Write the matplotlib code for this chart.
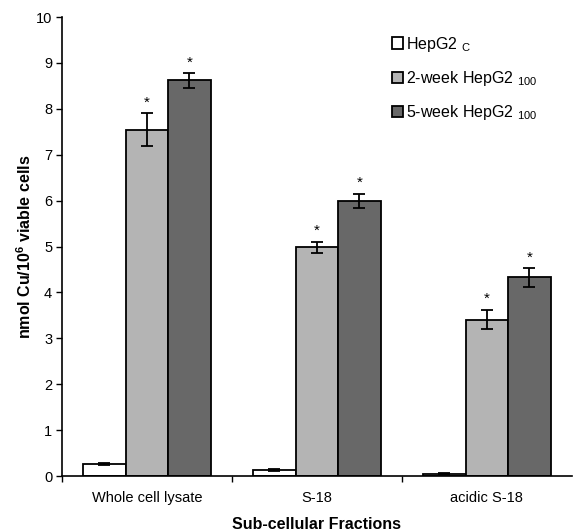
import matplotlib
matplotlib.use("Agg")
import matplotlib.pyplot as plt
import numpy as np

plt.rcParams["font.family"] = ["Liberation Sans", "DejaVu Sans"]
plt.rcParams["mathtext.default"] = "regular"

categories = ["Whole cell lysate", "S-18", "acidic S-18"]
series_names = ["HepG2 $_{C}$", "2-week HepG2 $_{100}$", "5-week HepG2 $_{100}$"]
series_colors = ["white", "#b4b4b4", "#686868"]

control = [0.27, 0.13, 0.05]
week2 = [7.55, 4.99, 3.41]
week5 = [8.62, 6.00, 4.33]
control_err = [0.02, 0.02, 0.01]
week2_err = [0.35, 0.12, 0.21]
week5_err = [0.16, 0.15, 0.20]
week2_sig = [True, True, True]
week5_sig = [True, True, True]

values = [control, week2, week5]
errors = [control_err, week2_err, week5_err]
signif = [[False] * 3, week2_sig, week5_sig]

fig = plt.figure(figsize=(5.73, 5.32), dpi=100)
ax = fig.add_axes([0.108, 0.105, 0.89, 0.863])

x = np.arange(len(categories))
width = 0.25

for k in range(3):
    pos = x + (k - 1) * width
    ax.bar(
        pos,
        values[k],
        width,
        color=series_colors[k],
        edgecolor="black",
        linewidth=1.3,
        label=series_names[k],
        zorder=2
    )
    ax.errorbar(
        pos,
        values[k],
        yerr=errors[k],
        fmt="none",
        ecolor="black",
        elinewidth=1.3,
        capsize=4,
        capthick=1.3,
        zorder=3
    )
    for p, v, e, s in zip(pos, values[k], errors[k], signif[k]):
        if s:
            ax.text(p, v + e + 0.08, "*", ha="center", va="bottom", fontsize=11)

ax.set_xlim(-0.5, 2.5)
ax.set_ylim(0, 10)
ax.set_yticks(range(0, 11))
ax.set_xticks(x)
ax.set_xticklabels(categories, fontsize=10.5)
ax.set_xticks([-0.5, 0.5, 1.5], minor=True)
ax.tick_params(axis="x", which="major", length=0, pad=11)
ax.tick_params(axis="x", which="minor", length=4, width=1, direction="out")
ax.tick_params(axis="y", length=4, width=1, direction="out", labelsize=10.5, pad=3)

ax.spines["top"].set_visible(False)
ax.spines["right"].set_visible(False)
ax.spines["left"].set_linewidth(1.2)
ax.spines["bottom"].set_linewidth(1.2)

ax.set_xlabel("Sub-cellular Fractions", fontsize=11.5, fontweight="bold", labelpad=8)
ax.set_ylabel("nmol Cu/10$^{6}$ viable cells", fontsize=11.5, fontweight="bold", labelpad=1)

ax.legend(
    loc="upper right",
    bbox_to_anchor=(0.96, 0.993),
    frameon=False,
    fontsize=11.5,
    handlelength=0.7,
    handleheight=0.7,
    handletextpad=0.15,
    labelspacing=0.95
)

fig.savefig("out.png", dpi=100)
